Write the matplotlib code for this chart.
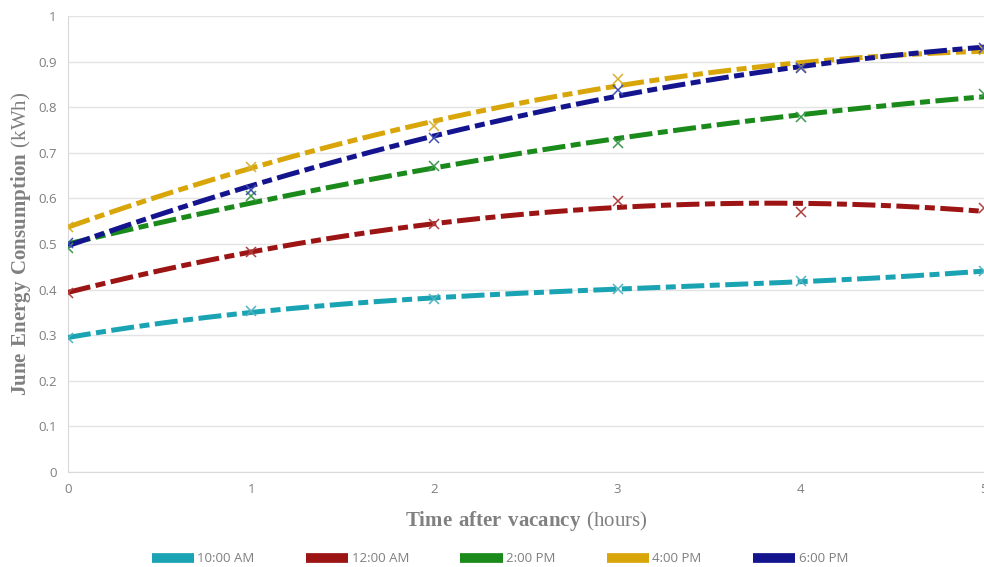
import matplotlib.pyplot as plt
import numpy as np

plt.rcParams['mathtext.fontset'] = 'custom'
plt.rcParams['mathtext.rm'] = 'Liberation Serif'
plt.rcParams['mathtext.bf'] = 'Liberation Serif:bold'

hours = [0, 1, 2, 3, 4, 5]
labels = ['10:00 AM', '12:00 AM', '2:00 PM', '4:00 PM', '6:00 PM']
am10 = [0.294, 0.353, 0.379, 0.401, 0.419, 0.440]
am12 = [0.393, 0.482, 0.544, 0.594, 0.570, 0.579]
pm2 = [0.491, 0.605, 0.671, 0.721, 0.778, 0.829]
pm4 = [0.537, 0.669, 0.759, 0.862, 0.888, 0.925]
pm6 = [0.502, 0.618, 0.732, 0.838, 0.886, 0.930]
series = [am10, am12, pm2, pm4, pm6]
# trendline order per series (excel-style polynomial trendlines)
orders = [3, 2, 2, 2, 2]
line_colors = ['#1aa3b3', '#9c1414', '#1a8a1a', '#d9a60a', '#14148f']
marker_colors = ['#4fb3c0', '#b04040', '#3d9a4d', '#d8b030', '#4050b0']

fig = plt.figure(figsize=(9.84, 5.67), dpi=100)
ax = fig.add_axes([0.069, 0.1675, 0.931, 0.8043])

xs = np.linspace(0, 5, 200)
handles = []
for vals, order, lc, mc, lab in zip(series, orders, line_colors, marker_colors, labels):
    coef = np.polyfit(hours, vals, order)
    ax.plot(xs, np.polyval(coef, xs), color=lc, lw=3.6,
            dashes=(4.6, 1.1, 2.0, 1.1), zorder=3)
    ax.plot(hours, vals, 'x', color=mc, ms=7, mew=1.1, zorder=4)
    handles.append(plt.Line2D([], [], color=lc, lw=7, solid_capstyle='butt'))

ax.set_xlim(0, 5)
ax.set_ylim(0, 1)
ax.set_yticks(np.arange(0, 1.01, 0.1))
ax.set_yticklabels(['0', '0.1', '0.2', '0.3', '0.4', '0.5', '0.6', '0.7', '0.8', '0.9', '1'])
ax.set_xticks(hours)
ax.grid(axis='y', color='#e3e3e3', lw=1)
ax.set_axisbelow(True)
for s in ['top', 'right']:
    ax.spines[s].set_visible(False)
for s in ['left', 'bottom']:
    ax.spines[s].set_color('#d9d9d9')
ax.tick_params(length=0, labelsize=9.5, labelcolor='#7f7f7f', pad=8)
for t in ax.get_xticklabels() + ax.get_yticklabels():
    t.set_family('Open Sans')

ax.set_ylabel(r'$\mathbf{June\ Energy\ Consumption}\ \mathrm{(kWh)}$',
              fontsize=15, color='#808080', labelpad=4)
ax.set_xlabel(r'$\mathbf{Time\ after\ vacancy}\ \mathrm{(hours)}$',
              fontsize=15, color='#808080', labelpad=9)

leg = fig.legend(handles, labels, loc='lower center', bbox_to_anchor=(0.508, -0.018),
                 ncol=5, frameon=False, handlelength=3.2, handletextpad=0.25,
                 columnspacing=3.9, prop={'family': 'Open Sans', 'size': 9.5})
for t in leg.get_texts():
    t.set_color('#7f7f7f')

fig.savefig('out.png', dpi=100)
